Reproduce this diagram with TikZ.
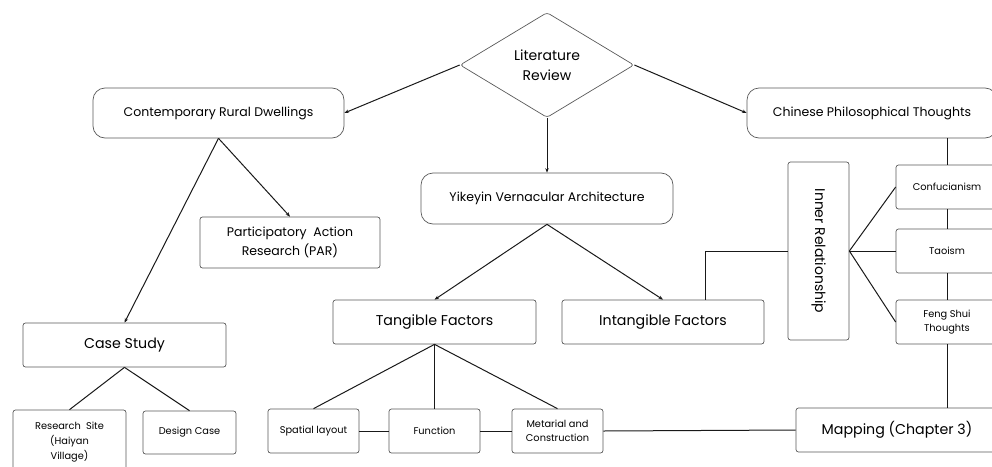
\documentclass[tikz,border=0pt]{standalone}
\usepackage{fontspec}
\setmainfont{Poppins}
\usetikzlibrary{shapes.geometric,arrows.meta}
\begin{document}
\begin{tikzpicture}[x=1pt,y=-1pt,
  box/.style={draw=black!65,line width=0.7pt,rounded corners=2.5pt,inner sep=0pt,align=center,fill=white},
  roundbox/.style={box,rounded corners=12pt},
  link/.style={line width=1pt,black!90},
  arr/.style={link,-{Stealth[length=4.5pt,width=3.5pt]}},
  bigtxt/.style={font=\fontsize{14.2}{16}\selectfont},
  midtxt/.style={font=\fontsize{12.5}{19}\selectfont},
  smalltxt/.style={font=\fontsize{9.8}{15}\selectfont},
  pairtxt/.style={font=\fontsize{9.8}{14}\selectfont}]
\useasboundingbox (0,0) rectangle (992,466);
\begin{scope}
\clip (0,0) rectangle (992,466);
% top level
\node[diamond,draw=black!65,line width=0.7pt,rounded corners=3pt,minimum width=174pt,minimum height=105pt,inner sep=0pt,align=center,font=\fontsize{14}{20}\selectfont] (lit) at (547,65) {Literature\\Review};
\node[roundbox,midtxt,minimum width=251pt,minimum height=50pt] (crd) at (218.5,113) {Contemporary Rural Dwellings};
\node[roundbox,midtxt,minimum width=250pt,minimum height=50pt] (cpt) at (872,113) {Chinese Philosophical Thoughts};
\node[roundbox,midtxt,minimum width=252pt,minimum height=51pt] (yva) at (547,198.5) {Yikeyin Vernacular Architecture};
% left branch
\node[box,midtxt,minimum width=180pt,minimum height=51pt] (par) at (290,242.5) {Participatory\ \ Action\\Research (PAR)};
\node[box,bigtxt,minimum width=203pt,minimum height=44pt] (cs) at (124.5,345) {Case Study};
\node[box,smalltxt,minimum width=113pt,minimum height=64pt] (rs) at (69.5,442) {Research\ \ Site\\(Haiyan\\Village)};
\node[box,smalltxt,minimum width=93pt,minimum height=43pt] (dc) at (189.5,432.5) {Design Case};
% middle branch
\node[box,bigtxt,minimum width=203pt,minimum height=44pt] (tf) at (434.5,322) {Tangible Factors};
\node[box,bigtxt,minimum width=202pt,minimum height=44pt] (itf) at (663,322) {Intangible Factors};
\node[box,smalltxt,minimum width=91pt,minimum height=44pt] (sl) at (313.5,431) {Spatial layout};
\node[box,smalltxt,minimum width=91pt,minimum height=44pt] (fn) at (434.5,431) {Function};
\node[box,pairtxt,minimum width=91pt,minimum height=44pt] (mc) at (557.5,431) {Metarial and\\Construction};
% right branch
\node[box,minimum width=61pt,minimum height=178pt] (ir) at (818.5,251) {};
\node[rotate=-90,font=\fontsize{14}{16}\selectfont] at (ir.center) {Inner Relationship};
\node[box,smalltxt,minimum width=102pt,minimum height=44pt] (con) at (947,187) {Confucianism};
\node[box,smalltxt,minimum width=102pt,minimum height=44pt] (tao) at (947,251) {Taoism};
\node[box,pairtxt,minimum width=102pt,minimum height=44pt] (fs) at (947,322) {Feng Shui\\Thoughts};
\node[box,bigtxt,minimum width=202pt,minimum height=44pt] (map) at (897,430) {Mapping (Chapter 3)};
% arrows from the review
\draw[arr] (lit.west) -- (crd.east);
\draw[arr] (lit.east) -- (cpt.west);
\draw[arr] (lit.south) -- (yva.north);
\draw[arr] (crd.south) -- (cs.north);
\draw[arr] (crd.south) -- (par.north);
\draw[arr] (yva.south) -- (tf.north);
\draw[arr] (yva.south) -- (itf.north);
% plain connectors
\draw[link] (cs.south) -- (rs.north);
\draw[link] (cs.south) -- (dc.north);
\draw[link] (tf.south) -- (sl.north);
\draw[link] (tf.south) -- (fn.north);
\draw[link] (tf.south) -- (mc.north);
\draw[link] (sl.east) -- (fn.west);
\draw[link] (fn.east) -- (mc.west);
\draw[link] (mc.east) -- (map.west);
\draw[link] ([xshift=42pt]itf.north) |- (ir.west);
\draw[link] (ir.east) -- (con.west);
\draw[link] (ir.east) -- (tao.west);
\draw[link] (ir.east) -- (fs.west);
\draw[link] (con.north) -- (con.north |- cpt.south);
\draw[link] (con.south) -- (tao.north);
\draw[link] (tao.south) -- (fs.north);
\draw[link] (fs.south) -- (fs.south |- map.north);
\end{scope}
\end{tikzpicture}
\end{document}
